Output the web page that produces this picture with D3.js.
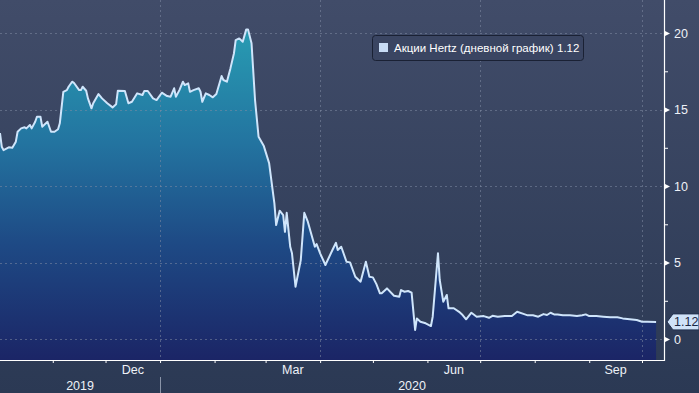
<!DOCTYPE html>
<html>
<head>
<meta charset="utf-8">
<script src="https://cdn.jsdelivr.net/npm/d3@7"></script>
<style>
html, body { margin: 0; padding: 0; background: #2c3a55; }
svg { display: block; font-family: "Liberation Sans", Arial, sans-serif; }
</style>
</head>
<body>
<div id="chart"></div>
<script>
// Hertz share price, daily
const dates = [
  '2019-10-02','2019-10-03','2019-10-04','2019-10-07','2019-10-09','2019-10-11','2019-10-12','2019-10-14',
  '2019-10-16','2019-10-17','2019-10-19','2019-10-20','2019-10-22','2019-10-23','2019-10-25','2019-10-26',
  '2019-10-29','2019-10-31','2019-11-02','2019-11-04','2019-11-05','2019-11-07','2019-11-09','2019-11-10',
  '2019-11-12','2019-11-13','2019-11-16','2019-11-17','2019-11-18','2019-11-20','2019-11-21','2019-11-23',
  '2019-11-24','2019-11-27','2019-11-29','2019-12-02','2019-12-05','2019-12-07','2019-12-08','2019-12-12',
  '2019-12-14','2019-12-16','2019-12-19','2019-12-22','2019-12-23','2019-12-25','2019-12-28','2019-12-30',
  '2020-01-02','2020-01-05','2020-01-07','2020-01-09','2020-01-10','2020-01-12','2020-01-14','2020-01-15',
  '2020-01-17','2020-01-18','2020-01-20','2020-01-23','2020-01-24','2020-01-25','2020-01-27','2020-01-29',
  '2020-01-31','2020-02-02','2020-02-05','2020-02-06','2020-02-08','2020-02-10','2020-02-12','2020-02-13',
  '2020-02-15','2020-02-17','2020-02-19','2020-02-20','2020-02-22','2020-02-24','2020-02-26','2020-02-29',
  '2020-03-03','2020-03-05','2020-03-06','2020-03-07','2020-03-09','2020-03-11','2020-03-12','2020-03-13',
  '2020-03-15','2020-03-16','2020-03-18','2020-03-21','2020-03-23','2020-03-25','2020-03-29','2020-03-30',
  '2020-04-01','2020-04-04','2020-04-08','2020-04-10','2020-04-11','2020-04-13','2020-04-16','2020-04-18',
  '2020-04-21','2020-04-24','2020-04-27','2020-04-29','2020-05-01','2020-05-03','2020-05-05','2020-05-06',
  '2020-05-09','2020-05-13','2020-05-16','2020-05-17','2020-05-19','2020-05-21','2020-05-23','2020-05-25',
  '2020-05-26','2020-05-28','2020-05-31','2020-06-03','2020-06-04','2020-06-07','2020-06-08','2020-06-10',
  '2020-06-12','2020-06-13','2020-06-16','2020-06-19','2020-06-21','2020-06-23','2020-06-26','2020-06-29',
  '2020-07-03','2020-07-06','2020-07-08','2020-07-11','2020-07-15','2020-07-19','2020-07-22','2020-07-26',
  '2020-07-28','2020-07-31','2020-08-03','2020-08-06','2020-08-08','2020-08-10','2020-08-12','2020-08-14',
  '2020-08-17','2020-08-21','2020-08-25','2020-08-28','2020-08-30','2020-09-01','2020-09-05','2020-09-09',
  '2020-09-13','2020-09-17','2020-09-20','2020-09-24','2020-09-28','2020-10-01','2020-10-04','2020-10-09'
];
const prices = [
  13.46,12.57,12.35,12.53,12.50,12.90,13.55,13.77,
  13.84,13.77,13.99,13.77,14.20,14.53,14.53,13.88,
  14.20,13.55,13.55,13.71,14.10,16.16,16.27,16.49,
  16.82,16.75,16.27,16.27,16.49,16.23,15.73,15.08,
  15.41,16.01,15.73,15.41,15.14,15.34,16.23,16.21,
  15.41,15.51,16.06,15.95,16.21,16.21,15.73,15.62,
  16.10,15.88,15.84,16.39,15.84,16.27,16.82,16.60,
  16.71,16.16,16.27,16.39,16.16,15.51,16.06,15.95,
  15.80,16.01,17.19,16.93,16.82,17.69,18.67,19.54,
  19.65,19.43,20.24,20.24,19.33,15.62,13.22,12.61,
  11.50,9.74,8.87,7.45,8.39,8.10,7.01,8.25,
  6.03,5.60,3.42,5.16,8.25,7.67,6.03,6.21,
  5.60,4.84,5.82,6.29,5.82,6.03,5.05,5.01,
  4.07,3.75,5.05,4.07,4.03,3.59,2.99,2.99,
  3.31,2.83,2.76,3.20,3.09,3.14,3.03,0.59,
  1.35,1.13,1.03,0.85,1.46,5.60,3.86,2.44,
  2.88,2.01,2.01,1.78,1.57,1.29,1.72,1.46,
  1.50,1.39,1.52,1.46,1.50,1.50,1.78,1.63,
  1.55,1.55,1.46,1.63,1.57,1.72,1.61,1.61,
  1.55,1.55,1.50,1.55,1.61,1.50,1.50,1.46,
  1.42,1.42,1.35,1.29,1.24,1.13,1.13,1.12
];

const yTicks = [0, 5, 10, 15, 20];
const yMinorTicks = [2.5, 7.5, 12.5, 17.5];
const monthLabels = ['Dec', 'Mar', 'Jun', 'Sep'];
const monthLabelStarts = ['2019-12-01', '2020-03-01', '2020-06-01', '2020-09-01'];
const years = ['2019', '2020'];
const legendLabel = 'Акции Hertz (дневной график)';
const lastValue = 1.12;

const W = 699, H = 393;
const margin = {t:0, r:35, b:33, l:0};
const w = W - margin.l - margin.r;
const h = H - margin.t - margin.b;

const parse = d3.timeParse('%Y-%m-%d');
const data = dates.map((d, i) => ({date: parse(d), value: prices[i]}));

const x = d3.scaleTime()
  .domain([new Date(2019, 9, 2), new Date(2020, 9, 13, 12)])
  .range([0, w]);
const y = d3.scaleLinear().domain([-1.37, 22.16]).range([h, 0]);

const svg = d3.select('#chart').append('svg')
  .attr('width', W)
  .attr('height', H);

const defs = svg.append('defs');
const bg = defs.append('linearGradient').attr('id', 'bg')
  .attr('x1', 0).attr('y1', 0).attr('x2', 0).attr('y2', 1);
bg.append('stop').attr('offset', '0%').attr('stop-color', '#414c69');
bg.append('stop').attr('offset', '100%').attr('stop-color', '#2b3954');

const fill = defs.append('linearGradient').attr('id', 'fill')
  .attr('gradientUnits', 'userSpaceOnUse')
  .attr('x1', 0).attr('y1', y(20.5)).attr('x2', 0).attr('y2', h);
fill.append('stop').attr('offset', '0%').attr('stop-color', '#289db3');
fill.append('stop').attr('offset', '35%').attr('stop-color', '#2374a0');
fill.append('stop').attr('offset', '65%').attr('stop-color', '#1e4a85');
fill.append('stop').attr('offset', '100%').attr('stop-color', '#1b2566');

svg.append('rect').attr('width', W).attr('height', H).attr('fill', 'url(#bg)');

const plot = svg.append('g').attr('transform', `translate(${margin.l}, ${margin.t})`);

// area + line
plot.append('path')
  .datum(data)
  .attr('fill', 'url(#fill)')
  .attr('d', d3.area().x(d => x(d.date)).y0(h).y1(d => y(d.value)));

// grid
const grid = plot.append('g')
  .attr('stroke', '#7f8aa3')
  .attr('stroke-opacity', 0.55)
  .attr('stroke-dasharray', '2,3')
  .attr('stroke-width', 1);
grid.selectAll('.hg').data(yTicks).join('line')
  .attr('x1', 0).attr('x2', w)
  .attr('y1', d => Math.round(y(d)) + 0.5).attr('y2', d => Math.round(y(d)) + 0.5);
grid.selectAll('.vg').data(d3.timeMonth.every(3).range(x.domain()[0], x.domain()[1])).join('line')
  .attr('x1', d => Math.round(x(d)) + 0.5).attr('x2', d => Math.round(x(d)) + 0.5)
  .attr('y1', 0).attr('y2', h);

plot.append('path')
  .datum(data)
  .attr('fill', 'none')
  .attr('stroke', '#cfe5fb')
  .attr('stroke-width', 2)
  .attr('stroke-linejoin', 'round')
  .attr('d', d3.line().x(d => x(d.date)).y(d => y(d.value)));

// right axis
plot.append('line')
  .attr('x1', w + 0.5).attr('x2', w + 0.5).attr('y1', 0).attr('y2', h + 1)
  .attr('stroke', '#ffffff').attr('stroke-width', 1.2);

const yAxis = plot.append('g').attr('transform', `translate(${w}, 0)`)
  .call(d3.axisRight(y).tickValues(yTicks).tickSize(0).tickPadding(10));
yAxis.select('.domain').remove();
yAxis.selectAll('text')
  .attr('fill', '#eef1f7')
  .style('font-size', '12.5px')
  .style('font-family', '"Liberation Sans", Arial, sans-serif');
yAxis.selectAll('.tick').append('path')
  .attr('d', 'M0,-3L6,0L0,3Z')
  .attr('fill', '#ffffff');

const yMinor = plot.append('g').attr('transform', `translate(${w}, 0)`)
  .call(d3.axisRight(y).tickValues(yMinorTicks).tickSize(4).tickFormat(''));
yMinor.select('.domain').remove();
yMinor.selectAll('line').attr('stroke', '#ffffff');

// bottom axis
plot.append('line')
  .attr('x1', 0).attr('x2', w + 1).attr('y1', h + 0.5).attr('y2', h + 0.5)
  .attr('stroke', '#ffffff').attr('stroke-width', 1.2);

const xAxis = plot.append('g').attr('transform', `translate(0, ${h})`)
  .call(d3.axisBottom(x).ticks(d3.timeMonth.every(1)).tickSize(3).tickFormat(''));
xAxis.select('.domain').remove();
xAxis.selectAll('line').attr('stroke', '#ffffff');

plot.selectAll('.month').data(monthLabels).join('text')
  .attr('x', (d, i) => {
    const s = parse(monthLabelStarts[i]);
    return (x(s) + x(d3.timeMonth.offset(s, 1))) / 2;
  })
  .attr('y', h + 14)
  .attr('text-anchor', 'middle')
  .attr('fill', '#eef1f7')
  .style('font-size', '12.5px')
  .text(d => d);

const yearStarts = years.map(yr => new Date(+yr, 0, 1));
plot.selectAll('.year').data(years).join('text')
  .attr('x', (d, i) => {
    const a = Math.max(0, x(yearStarts[i]));
    const b = Math.min(w, x(new Date(+d + 1, 0, 1)));
    return (a + b) / 2;
  })
  .attr('y', h + 30)
  .attr('text-anchor', 'middle')
  .attr('fill', '#eef1f7')
  .style('font-size', '12.5px')
  .text(d => d);

plot.append('line')
  .attr('x1', Math.round(x(yearStarts[1])) + 0.5).attr('x2', Math.round(x(yearStarts[1])) + 0.5)
  .attr('y1', h + 17).attr('y2', H)
  .attr('stroke', '#8a94a8');

// last value tag
const yv = y(lastValue);
plot.append('path')
  .attr('d', `M${w + 3},${yv}L${w + 9},${yv - 8}L${W},${yv - 8}L${W},${yv + 8}L${w + 9},${yv + 8}Z`)
  .attr('fill', '#cfe2f8')
  .attr('stroke', '#22304e')
  .attr('stroke-width', 1);
plot.append('text')
  .attr('x', w + 10).attr('y', yv + 4.5)
  .attr('fill', '#1b2744')
  .style('font-size', '12.5px')
  .text(lastValue.toFixed(2));

// legend
const lg = svg.append('g').attr('transform', 'translate(372, 35)');
lg.append('rect')
  .attr('x', 0.5).attr('y', 0.5).attr('width', 211).attr('height', 25).attr('rx', 3)
  .attr('fill', '#3a4562').attr('stroke', '#1a2134');
lg.append('rect')
  .attr('x', 7).attr('y', 8).attr('width', 9).attr('height', 9)
  .attr('fill', '#c8dcf6');
lg.append('text')
  .attr('x', 22).attr('y', 17)
  .attr('fill', '#ffffff')
  .style('font-size', '11.5px')
  .text(legendLabel);
lg.append('text')
  .attr('x', 185).attr('y', 17)
  .attr('fill', '#ffffff')
  .style('font-size', '11.5px')
  .text(lastValue.toFixed(2));
</script>
</body>
</html>
